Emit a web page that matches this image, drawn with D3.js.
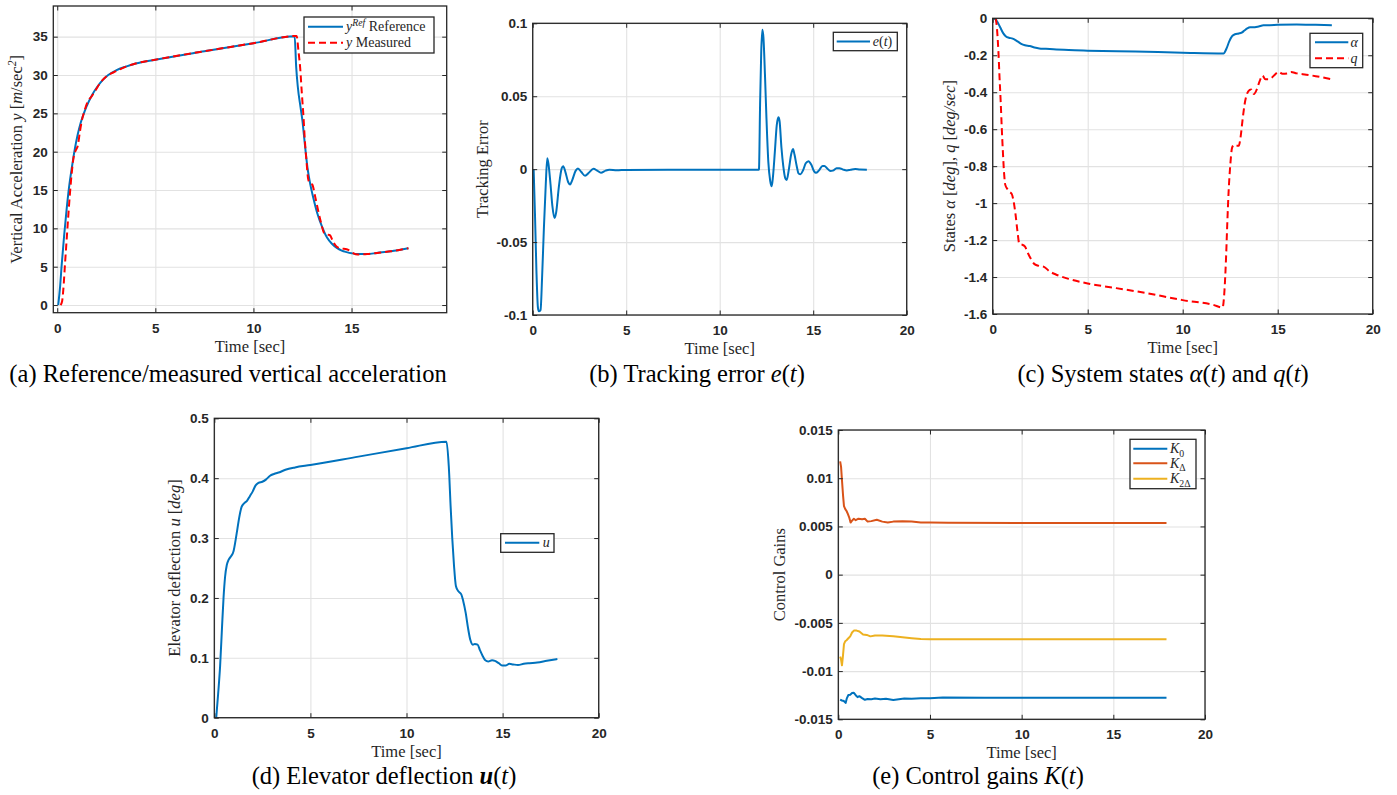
<!DOCTYPE html>
<html><head><meta charset="utf-8">
<script src="https://cdn.jsdelivr.net/npm/d3@7"></script>
<style>body{margin:0;background:#fff} svg{display:block}</style>
</head><body>
<svg id="c" width="1397" height="795"></svg>
<script>
// ---------- DATA ----------
// (a) vertical acceleration
const tA_ref = [0.05,0.15,0.22,0.35,0.48,0.6,0.75,0.9,1.05,1.2,1.4,1.6,1.8,2.0,2.3,2.6,3.0,3.5,4.0,5.0,7.5,10,12.1,12.18,12.26,12.4,12.5,12.6,12.75,12.9,13.05,13.25,13.5,13.75,14.0,14.25,14.5,14.75,15.0,15.3,15.8,16.3,17.0,17.9];
const yA_ref = [0,2.5,5,9,12.5,15.3,18,20.4,22.3,23.8,25.3,26.5,27.5,28.3,29.3,30.0,30.6,31.1,31.5,32.0,33.1,34.15,35.05,31,28.5,25.8,24.0,21.5,18,15.7,14,12,10.2,8.8,8.0,7.45,7.1,6.9,6.75,6.65,6.65,6.8,7.0,7.4];
const tA_meas = [0.17,0.25,0.31,0.4,0.48,0.56,0.65,0.75,0.85,0.95,1.05,1.15,1.25,1.4,1.55,1.75,1.95,2.2,2.5,3.0,3.5,4.0,5.0,7.5,10,12.2,12.3,12.38,12.47,12.55,12.62,12.7,12.8,12.9,13.0,13.15,13.3,13.45,13.6,13.75,13.9,14.05,14.25,14.5,14.7,14.9,15.1,15.3,15.8,16.3,17.0,17.9];
const yA_meas = [0,0.5,2,5.5,8.5,11.5,14.6,17.5,19.5,20.2,20.8,22.5,24,25.4,26.5,27.2,28,29,29.8,30.5,31.1,31.5,32.0,33.1,34.15,35.1,33,31,27.5,24.6,21.5,18.9,16.3,15.9,15.7,14.1,12.3,10.7,9.4,9.2,9.1,8.3,7.6,7.35,7.3,7.1,6.75,6.6,6.65,6.8,7.0,7.4];
// (b) tracking error
const tB = [0.05,0.12,0.2,0.28,0.33,0.42,0.5,0.6,0.7,0.78,0.85,0.95,1.05,1.17,1.25,1.4,1.55,1.63,1.75,1.9,2.0,2.1,2.3,2.42,2.6,2.8,3.0,3.25,3.45,3.65,3.9,4.1,4.5,5.0,12.08,12.1,12.16,12.22,12.28,12.34,12.42,12.5,12.6,12.7,12.78,12.85,12.95,13.05,13.14,13.2,13.3,13.4,13.5,13.58,13.7,13.82,13.92,14.0,14.12,14.22,14.32,14.45,14.6,14.75,14.9,15.05,15.15,15.3,15.5,15.6,15.75,15.92,16.05,16.25,16.4,16.6,16.8,17.0,17.25,17.5,17.87];
const eB = [0,-0.03,-0.07,-0.095,-0.0975,-0.0965,-0.075,-0.04,-0.01,0.0075,0.003,-0.01,-0.025,-0.0335,-0.03,-0.012,0.0005,0.002,-0.002,-0.009,-0.0105,-0.008,-0.001,0.0005,-0.002,-0.0045,-0.0025,0.0002,-0.001,-0.0025,-0.001,-0.0004,-0.0008,-0.0005,-0.0004,0,0.045,0.08,0.0955,0.09,0.065,0.035,0.005,-0.008,-0.0118,-0.005,0.012,0.03,0.0355,0.033,0.015,0.002,-0.006,-0.0075,0.0,0.01,0.0138,0.01,0.002,-0.003,-0.0035,-0.001,0.004,0.0055,0.003,-0.0015,-0.0025,-0.001,0.0022,0.0022,0.0005,-0.0012,-0.001,0.0006,0.0007,-0.0003,-0.0009,-0.0004,0.0001,-0.0003,-0.0004];
// (c) states
const tC_alpha = [0.1,0.25,0.4,0.55,0.7,0.85,1.05,1.2,1.35,1.5,1.7,1.95,2.2,2.45,2.8,3.2,4.0,5.0,7.5,10,12.15,12.3,12.45,12.6,12.75,12.95,13.1,13.25,13.4,13.55,13.8,14.0,14.25,14.6,15.0,16,17.0,17.85];
const alphaC = [0,-0.02,-0.05,-0.08,-0.098,-0.105,-0.11,-0.118,-0.128,-0.138,-0.146,-0.15,-0.158,-0.163,-0.165,-0.168,-0.172,-0.175,-0.18,-0.186,-0.19,-0.165,-0.125,-0.097,-0.086,-0.082,-0.078,-0.066,-0.055,-0.049,-0.048,-0.044,-0.038,-0.037,-0.035,-0.033,-0.035,-0.037];
const tC_q = [0.16,0.22,0.3,0.36,0.42,0.48,0.54,0.6,0.66,0.78,0.9,1.0,1.1,1.2,1.3,1.4,1.55,1.7,1.85,2.0,2.2,2.45,2.7,3.0,3.3,4.0,5.0,6.5,8.0,10,11.6,12.1,12.2,12.28,12.35,12.42,12.5,12.6,12.7,12.8,12.95,13.05,13.15,13.25,13.35,13.45,13.6,13.75,13.9,14.05,14.2,14.35,14.5,14.7,14.85,15.05,15.25,15.5,15.7,16.0,16.5,17.0,17.85];
const qC = [0,-0.05,-0.18,-0.32,-0.45,-0.6,-0.73,-0.84,-0.9,-0.925,-0.94,-0.95,-0.99,-1.06,-1.15,-1.22,-1.225,-1.235,-1.27,-1.3,-1.33,-1.34,-1.345,-1.37,-1.385,-1.41,-1.435,-1.46,-1.485,-1.525,-1.55,-1.565,-1.47,-1.3,-1.1,-0.93,-0.8,-0.7,-0.685,-0.69,-0.69,-0.64,-0.55,-0.47,-0.42,-0.395,-0.385,-0.41,-0.385,-0.34,-0.31,-0.33,-0.33,-0.32,-0.305,-0.29,-0.3,-0.298,-0.29,-0.298,-0.305,-0.313,-0.33];
// (d) elevator deflection
const tD = [0.1,0.2,0.3,0.4,0.48,0.56,0.65,0.75,0.88,1.0,1.1,1.2,1.3,1.42,1.55,1.7,1.85,2.0,2.15,2.3,2.5,2.7,2.9,3.1,3.4,3.7,4.2,5.0,7.5,10,12.08,12.2,12.3,12.38,12.47,12.57,12.7,12.85,12.95,13.08,13.2,13.32,13.45,13.55,13.7,13.82,13.95,14.1,14.25,14.45,14.6,14.8,15.0,15.15,15.35,15.55,15.8,16.1,16.4,16.8,17.3,17.85];
const uD = [0,0.04,0.085,0.15,0.2,0.235,0.255,0.264,0.27,0.278,0.295,0.315,0.335,0.352,0.358,0.362,0.37,0.378,0.388,0.392,0.394,0.398,0.404,0.407,0.41,0.414,0.418,0.422,0.436,0.45,0.461,0.42,0.35,0.3,0.255,0.22,0.211,0.206,0.195,0.175,0.15,0.13,0.122,0.123,0.122,0.113,0.104,0.096,0.094,0.096,0.095,0.091,0.087,0.087,0.09,0.089,0.088,0.09,0.091,0.092,0.095,0.098];
// (e) control gains
const tE_K0 = [0.1,0.2,0.3,0.4,0.47,0.55,0.65,0.75,0.85,0.95,1.05,1.15,1.3,1.45,1.6,1.8,2.0,2.3,2.6,3.0,3.3,3.6,4.0,4.5,5,5.7,8,17.9];
const K0 = [-0.01295,-0.01305,-0.0131,-0.0133,-0.0128,-0.01248,-0.01245,-0.01228,-0.01225,-0.0125,-0.0127,-0.0126,-0.0128,-0.01298,-0.0129,-0.01292,-0.01285,-0.01293,-0.01288,-0.013,-0.01292,-0.01285,-0.01287,-0.01283,-0.01282,-0.01274,-0.01276,-0.01276];
const tE_KD = [0.1,0.15,0.2,0.26,0.31,0.38,0.45,0.52,0.6,0.67,0.75,0.85,0.95,1.1,1.3,1.45,1.6,1.8,2.1,2.4,2.7,3.0,3.5,4.0,4.5,5,6,17.9];
const KD = [0.01175,0.0112,0.0098,0.0082,0.0071,0.0068,0.0066,0.0063,0.0059,0.0054,0.0056,0.0058,0.00565,0.0058,0.00575,0.0058,0.0055,0.00555,0.0057,0.0055,0.0054,0.0055,0.00553,0.0055,0.00542,0.0054,0.00537,0.00536];
const tE_K2D = [0.1,0.15,0.2,0.25,0.31,0.38,0.45,0.55,0.65,0.75,0.85,1.0,1.15,1.35,1.55,1.75,2.0,2.4,3.0,3.5,4.0,4.5,5,6,17.9];
const K2D = [-0.0085,-0.0088,-0.0094,-0.0085,-0.0072,-0.0069,-0.0068,-0.0066,-0.0064,-0.006,-0.0058,-0.0058,-0.0059,-0.0062,-0.00625,-0.0064,-0.0063,-0.0063,-0.00638,-0.0065,-0.0066,-0.00668,-0.0067,-0.0067,-0.0067];

// tick values and labels
const xTicksA = [0,5,10,15];
const xTicks20 = [0,5,10,15,20];
const yTicksA = [0,5,10,15,20,25,30,35];
const yTicksB = [-0.1,-0.05,0,0.05,0.1];
const yLabelsB = ["-0.1","-0.05","0","0.05","0.1"];
const yTicksC = [-1.6,-1.4,-1.2,-1,-0.8,-0.6,-0.4,-0.2,0];
const yLabelsC = ["-1.6","-1.4","-1.2","-1","-0.8","-0.6","-0.4","-0.2","0"];
const yTicksD = [0,0.1,0.2,0.3,0.4,0.5];
const yLabelsD = ["0","0.1","0.2","0.3","0.4","0.5"];
const yTicksE = [-0.015,-0.01,-0.005,0,0.005,0.01,0.015];
const yLabelsE = ["-0.015","-0.01","-0.005","0","0.005","0.01","0.015"];

// ---------- DRAW ----------
const svg = d3.select("#c");
const BLUE="#0072BD", ORANGE="#D95319", YELLOW="#EDB120", RED="#FF0000";
const AX="#262626", GRID="#e2e2e2";
const SERIF="'Liberation Serif','Times New Roman',serif";
const SANS="'Liberation Sans',Arial,sans-serif";
const TF=16.5, LF=14;
let clipId=0;

function mathText(sel, parts, size){
  parts.forEach(([t,s])=>{
    const ts = sel.append("tspan").text(t);
    if(s==='i'||s==='sup'||s==='sub') ts.attr("font-style","italic");
    if(s==='b'){ts.attr("font-style","italic").attr("font-weight","bold");}
    if(s==='sup'){ts.attr("font-size",size*0.7).attr("dy",-size*0.38);}
    if(s==='sub'||s==='subn'){ts.attr("font-size",size*0.7).attr("dy",size*0.25);}
    if(s==='back'){ts.attr("dy",size*0.38);}
    if(s==='backsub'){ts.attr("dy",-size*0.25);}
  });
}

function panel(p){
  const g = svg.append("g");
  const x = d3.scaleLinear().domain(p.xDomain).range([p.L,p.R]);
  const y = d3.scaleLinear().domain(p.yDomain).range([p.B,p.T]);
  const W=p.R-p.L, H=p.B-p.T;
  g.append("g").attr("transform",`translate(0,${p.B})`)
    .call(d3.axisBottom(x).tickValues(p.xTicks).tickSize(-H).tickFormat(""))
    .call(s=>{s.select(".domain").remove();s.selectAll("line").attr("stroke",GRID).attr("stroke-width",1.1);});
  g.append("g").attr("transform",`translate(${p.L},0)`)
    .call(d3.axisLeft(y).tickValues(p.yTicks).tickSize(-W).tickFormat(""))
    .call(s=>{s.select(".domain").remove();s.selectAll("line").attr("stroke",GRID).attr("stroke-width",1.1);});
  const cid="clip"+(clipId++);
  svg.append("clipPath").attr("id",cid).append("rect").attr("x",p.L).attr("y",p.T).attr("width",W).attr("height",H);
  const lg = g.append("g").attr("clip-path",`url(#${cid})`);
  p.series.forEach(s=>{
    const line=d3.line().x((d,i)=>x(s.t[i])).y(d=>y(d)).curve(s.curve||d3.curveMonotoneX);
    lg.append("path").datum(s.v).attr("d",line).attr("fill","none")
      .attr("stroke",s.color).attr("stroke-width",s.w||2)
      .attr("stroke-dasharray",s.dash||null).attr("stroke-linejoin","round");
  });
  const styleAx = s=>{s.select(".domain").remove();
    s.selectAll("line").attr("stroke",AX).attr("stroke-width",1);
    s.selectAll("text").attr("fill",AX).attr("font-family",SANS).attr("font-size",13.5).attr("font-weight","bold");};
  g.append("g").attr("transform",`translate(0,${p.B})`)
    .call(d3.axisBottom(x).tickValues(p.xTicks).tickSizeInner(-4.5).tickSizeOuter(0).tickPadding(10.5).tickFormat(d=>String(d)))
    .call(styleAx);
  g.append("g").attr("transform",`translate(0,${p.T})`)
    .call(d3.axisTop(x).tickValues(p.xTicks).tickSizeInner(-4.5).tickSizeOuter(0).tickFormat(""))
    .call(styleAx);
  g.append("g").attr("transform",`translate(${p.L},0)`)
    .call(d3.axisLeft(y).tickValues(p.yTicks).tickSizeInner(-4.5).tickSizeOuter(0).tickPadding(5.5)
      .tickFormat((d,i)=>p.yLabels?p.yLabels[i]:String(d)))
    .call(styleAx);
  g.append("g").attr("transform",`translate(${p.R},0)`)
    .call(d3.axisRight(y).tickValues(p.yTicks).tickSizeInner(-4.5).tickSizeOuter(0).tickFormat(""))
    .call(styleAx);
  g.append("rect").attr("x",p.L).attr("y",p.T).attr("width",W).attr("height",H)
    .attr("fill","none").attr("stroke",AX).attr("stroke-width",1.3);
  const xt=g.append("text").attr("x",(p.L+p.R)/2).attr("y",p.B+39).attr("text-anchor","middle")
    .attr("font-family",SERIF).attr("font-size",TF).attr("fill",AX);
  mathText(xt,[["Time [sec]",'n']],TF);
  const yt=g.append("text").attr("transform",`translate(${p.yTitleX},${(p.T+p.B)/2}) rotate(-90)`)
    .attr("text-anchor","middle").attr("font-family",SERIF).attr("font-size",TF).attr("fill",AX);
  mathText(yt,p.yTitle,TF);
  const L=p.legend;
  const lgd=g.append("g");
  lgd.append("rect").attr("x",L.x).attr("y",L.y).attr("width",L.w).attr("height",L.h)
    .attr("fill","#fff").attr("stroke",AX).attr("stroke-width",1.3);
  L.items.forEach((it,i)=>{
    const yy=L.y+L.rows[i];
    lgd.append("line").attr("x1",L.x+L.l1).attr("x2",L.x+L.l2).attr("y1",yy).attr("y2",yy)
      .attr("stroke",it.color).attr("stroke-width",2).attr("stroke-dasharray",it.dash||null);
    const tx=lgd.append("text").attr("x",L.x+L.tx).attr("y",yy+4.5).attr("font-family",SERIF)
      .attr("font-size",LF).attr("fill",AX);
    mathText(tx,it.label,LF);
  });
}

panel({L:53.3,R:446.7,T:6,B:312.7,xDomain:[-0.2,19.85],yDomain:[-1,39],
  xTicks:xTicksA,yTicks:yTicksA,yTitleX:22,
  yTitle:[["Vertical Acceleration ",'n'],["y",'i'],[" [",'n'],["m",'i'],["/sec",'n'],["2",'sup'],["]",'back']],
  series:[{t:tA_ref,v:yA_ref,color:BLUE},{t:tA_meas,v:yA_meas,color:RED,dash:"7,4"}],
  legend:{x:304,y:17,w:130,h:36,l1:4,l2:39,tx:42,rows:[9.7,25.7],items:[
    {color:BLUE,label:[["y",'i'],["Ref",'sup'],[" Reference",'back']]},
    {color:RED,dash:"7,4",label:[["y",'i'],[" Measured",'n']]}]}});

panel({L:532.7,R:906.7,T:23.3,B:315,xDomain:[0,20],yDomain:[-0.1,0.1],
  xTicks:xTicks20,yTicks:yTicksB,yLabels:yLabelsB,yTitleX:488,
  yTitle:[["Tracking Error",'n']],
  series:[{t:tB,v:eB,color:BLUE}],
  legend:{x:833.3,y:32.3,w:64,h:18.4,l1:3.4,l2:36.7,tx:39.5,rows:[9.2],items:[
    {color:BLUE,label:[["e",'i'],["(",'n'],["t",'i'],[")",'n']]}]}});

panel({L:992.7,R:1372.7,T:18.3,B:314,xDomain:[0,20],yDomain:[-1.6,0],
  xTicks:xTicks20,yTicks:yTicksC,yLabels:yLabelsC,yTitleX:955,
  yTitle:[["States ",'n'],["α",'i'],[" [",'n'],["deg",'i'],["], ",'n'],["q",'i'],[" [",'n'],["deg/sec",'i'],["]",'n']],
  series:[{t:tC_alpha,v:alphaC,color:BLUE},{t:tC_q,v:qC,color:RED,dash:"7,4"}],
  legend:{x:1310,y:33.3,w:52.7,h:34.4,l1:5,l2:38.3,tx:40.5,rows:[9,25],items:[
    {color:BLUE,label:[["α",'i']]},
    {color:RED,dash:"7,4",label:[["q",'i']]}]}});

panel({L:214.3,R:598.7,T:418.3,B:717.7,xDomain:[0,20],yDomain:[0,0.5],
  xTicks:xTicks20,yTicks:yTicksD,yLabels:yLabelsD,yTitleX:180,
  yTitle:[["Elevator deflection ",'n'],["u",'i'],[" [",'n'],["deg",'i'],["]",'n']],
  series:[{t:tD,v:uD,color:BLUE}],
  legend:{x:500.7,y:533.7,w:53.3,h:18.6,l1:4.3,l2:38.6,tx:42,rows:[9],items:[
    {color:BLUE,label:[["u",'i']]}]}});

panel({L:838.3,R:1205,T:430,B:719.3,xDomain:[0,20],yDomain:[-0.015,0.015],
  xTicks:xTicks20,yTicks:yTicksE,yLabels:yLabelsE,yTitleX:785,
  yTitle:[["Control Gains",'n']],
  series:[{t:tE_K0,v:K0,color:BLUE,curve:d3.curveLinear},{t:tE_KD,v:KD,color:ORANGE,curve:d3.curveLinear},{t:tE_K2D,v:K2D,color:YELLOW,curve:d3.curveLinear}],
  legend:{x:1130,y:439.3,w:66,h:49.4,l1:3.3,l2:37.3,tx:40,rows:[9.4,24,39.4],items:[
    {color:BLUE,label:[["K",'i'],["0",'subn'],["",'backsub']]},
    {color:ORANGE,label:[["K",'i'],["Δ",'subn'],["",'backsub']]},
    {color:YELLOW,label:[["K",'i'],["2Δ",'subn'],["",'backsub']]}]}});

// captions
const CF=24.5;
function caption(cx,cy,parts){
  const t=svg.append("text").attr("x",cx).attr("y",cy).attr("text-anchor","middle")
    .attr("font-family",SERIF).attr("font-size",CF).attr("fill","#000");
  mathText(t,parts,CF);
}
caption(228,382,[["(a) Reference/measured vertical acceleration",'n']]);
caption(697,382,[["(b) Tracking error ",'n'],["e",'i'],["(",'n'],["t",'i'],[")",'n']]);
caption(1163,382,[["(c) System states ",'n'],["α",'i'],["(",'n'],["t",'i'],[") and ",'n'],["q",'i'],["(",'n'],["t",'i'],[")",'n']]);
caption(384,784,[["(d) Elevator deflection ",'n'],["u",'b'],["(",'n'],["t",'i'],[")",'n']]);
caption(978,784,[["(e) Control gains ",'n'],["K",'i'],["(",'n'],["t",'i'],[")",'n']]);
</script>
</body></html>
